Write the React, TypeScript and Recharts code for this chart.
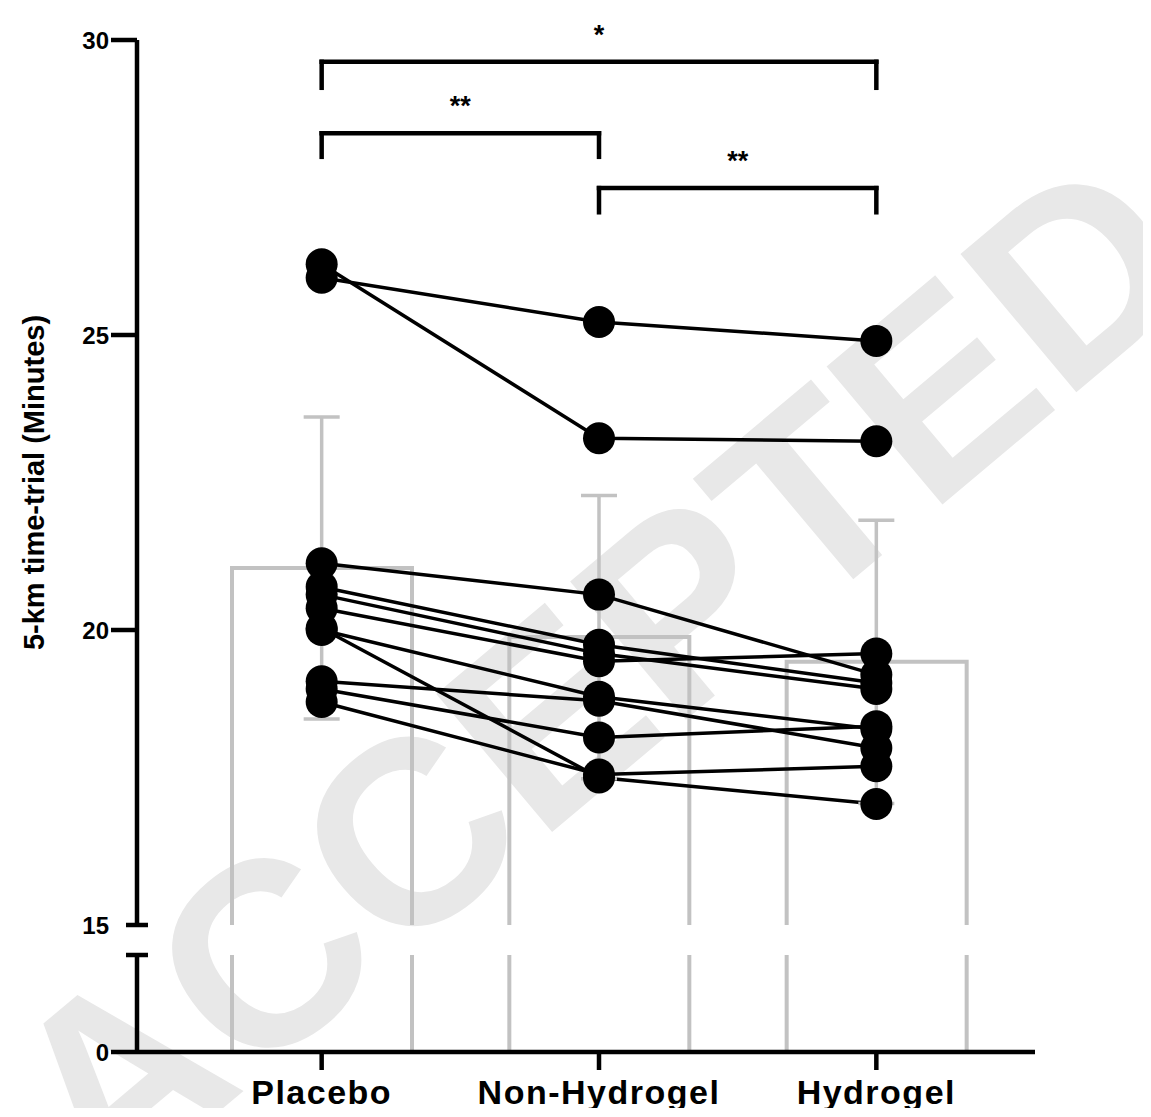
import React from "react";
import {
  Bar,
  ComposedChart,
  ErrorBar,
  Line,
  ReferenceLine,
  Scatter,
  XAxis,
  YAxis,
} from "recharts";

// conditions on the x axis
const categories = ["Placebo", "Non-Hydrogel", "Hydrogel"];

const meanTime = [21.05, 19.88, 19.46];
const sdTime = [2.56, 2.4, 2.4];

// individual runners: [placebo, non-hydrogel, hydrogel]
const runner01 = [26.2, 23.25, 23.2];
const runner02 = [25.97, 25.22, 24.9];
const runner03 = [21.13, 20.6, 19.24];
const runner04 = [20.73, 19.75, 19.1];
const runner05 = [20.6, 19.6, 19.0];
const runner06 = [20.37, 19.47, 19.6];
const runner07 = [20.0, 18.87, 18.32];
const runner08 = [20.03, 17.5, 17.05];
const runner09 = [19.13, 18.8, 18.0];
const runner10 = [19.0, 18.18, 18.37];
const runner11 = [18.78, 17.55, 17.69];
const runners = [
  runner01, runner02, runner03, runner04, runner05, runner06,
  runner07, runner08, runner09, runner10, runner11,
];

// y ticks of the two axis segments
const upperTicks = [15, 20, 25, 30];
const lowerTicks = [0, 15];

// significance brackets: from, to, bar level, foot level, label
const bracketFrom = ["Placebo", "Placebo", "Non-Hydrogel"];
const bracketTo = ["Hydrogel", "Non-Hydrogel", "Hydrogel"];
const bracketTop = [29.63, 28.42, 27.49];
const bracketFoot = [29.19, 28.02, 27.08];
const bracketLabel = ["*", "**", "**"];

const rows = categories.map((name, i) => {
  const row: Record<string, number | string> = {
    name,
    mean: meanTime[i],
    sd: sdTime[i],
  };
  runners.forEach((r, j) => {
    row[`r${j}`] = r[i];
  });
  return row;
});

const FONT = "'Liberation Sans', Arial, Helvetica, sans-serif";
const GREY = "#c2c2c2";
const AXIS_W = 4.5;
const W = 1143;
const MARGIN_X = { left: 0, right: 116 };
const X_PAD = { left: 46, right: 20 };

const yTick = (lower: boolean) => (props: any) => {
  const { x, y, payload } = props;
  const isBreak = payload.value === 15;
  const showLabel = !(lower && isBreak);
  return (
    <g>
      {isBreak ? (
        <line x1={x - 11} x2={x + 11} y1={y} y2={y} stroke="#000" strokeWidth={AXIS_W} />
      ) : (
        <line x1={x - 26} x2={x} y1={y} y2={y} stroke="#000" strokeWidth={AXIS_W} />
      )}
      {showLabel && (
        <text
          x={x - 28}
          y={y}
          dy="0.36em"
          textAnchor="end"
          fontFamily={FONT}
          fontWeight={700}
          fontSize={24}
          fill="#000"
        >
          {payload.value}
        </text>
      )}
    </g>
  );
};

const xTick = (props: any) => {
  const { x, y, payload } = props;
  return (
    <text
      x={x}
      y={y}
      dy="0.71em"
      textAnchor="middle"
      fontFamily={FONT}
      fontWeight={700}
      fontSize={34}
      letterSpacing={1.5}
      fill="#000"
    >
      {payload.value}
    </text>
  );
};

const upperBarShape = (p: any) => {
  const { x, y, width, height } = p;
  return (
    <path
      d={`M${x},${y + height} V${y} H${x + width} V${y + height}`}
      fill="none"
      stroke={GREY}
      strokeWidth={4}
    />
  );
};

const lowerBarShape = (p: any) => {
  const { x, y, width, height } = p;
  return (
    <path
      d={`M${x},${y} V${y + height} M${x + width},${y} V${y + height}`}
      fill="none"
      stroke={GREY}
      strokeWidth={4}
    />
  );
};

export default function App() {
  return (
    <div style={{ position: "relative", width: W, height: 1100, fontFamily: FONT }}>
      <style>{"svg.recharts-surface{overflow:visible}"}</style>
      <div
        style={{
          position: "absolute",
          left: 590,
          top: 668,
          transform: "translate(-50%, -50%) rotate(-40deg)",
          fontSize: 262,
          fontWeight: 700,
          color: "#e8e8e8",
          whiteSpace: "nowrap",
          lineHeight: 1,
        }}
      >
        ACCEPTED
      </div>

      <div style={{ position: "absolute", left: 0, top: 0 }}>
        <ComposedChart
          width={W}
          height={932}
          data={rows}
          margin={{ top: 32, bottom: 15, ...MARGIN_X }}
        >
          <XAxis dataKey="name" type="category" hide padding={X_PAD} />
          <YAxis
            type="number"
            domain={[15, 30]}
            ticks={upperTicks}
            interval={0}
            allowDataOverflow
            width={129}
            tickSize={0}
            tickMargin={0}
            tick={yTick(false)}
            axisLine={{ stroke: "#000", strokeWidth: AXIS_W }}
            label={{
              value: "5-km time-trial (Minutes)",
              angle: -90,
              position: "insideLeft",
              offset: 26,
              textAnchor: "middle",
              style: { textAnchor: "middle", fontFamily: FONT, fontWeight: 700, fontSize: 29, fill: "#000" },
            }}
          />
          <Bar dataKey="mean" barSize={180} shape={upperBarShape} isAnimationActive={false} />
          {runners.map((_, j) => (
            <Line
              key={j}
              dataKey={`r${j}`}
              stroke="#000"
              strokeWidth={3.5}
              dot={{ r: 16, fill: "#000", stroke: "none" }}
              activeDot={false}
              isAnimationActive={false}
            />
          ))}
          <Scatter dataKey="mean" shape={() => <g />} isAnimationActive={false}>
            <ErrorBar dataKey="sd" direction="y" width={18} stroke={GREY} strokeWidth={3.5} />
          </Scatter>
          {bracketFrom.map((from, k) => (
            <ReferenceLine
              key={`h${k}`}
              segment={[
                { x: from, y: bracketTop[k] },
                { x: bracketTo[k], y: bracketTop[k] },
              ]}
              stroke="#000"
              strokeWidth={AXIS_W}
              strokeLinecap="square"
              label={{
                value: bracketLabel[k],
                position: "top",
                offset: 18,
                fill: "#000",
                fontSize: 27,
                fontWeight: 700,
                fontFamily: FONT,
              }}
            />
          ))}
          {bracketFrom.map((from, k) => (
            <ReferenceLine
              key={`l${k}`}
              segment={[
                { x: from, y: bracketTop[k] },
                { x: from, y: bracketFoot[k] },
              ]}
              stroke="#000"
              strokeWidth={AXIS_W}
              strokeLinecap="square"
            />
          ))}
          {bracketTo.map((to, k) => (
            <ReferenceLine
              key={`r${k}`}
              segment={[
                { x: to, y: bracketTop[k] },
                { x: to, y: bracketFoot[k] },
              ]}
              stroke="#000"
              strokeWidth={AXIS_W}
              strokeLinecap="square"
            />
          ))}
        </ComposedChart>
      </div>

      <div style={{ position: "absolute", left: 0, top: 932 }}>
        <ComposedChart
          width={W}
          height={168}
          data={rows}
          margin={{ top: 15, bottom: 0, ...MARGIN_X }}
        >
          <XAxis
            dataKey="name"
            type="category"
            padding={X_PAD}
            height={56}
            tickSize={18}
            tickMargin={10}
            tick={xTick}
            tickLine={{ stroke: "#000", strokeWidth: AXIS_W }}
            axisLine={{ stroke: "#000", strokeWidth: AXIS_W }}
          />
          <YAxis
            type="number"
            domain={[0, 15]}
            ticks={lowerTicks}
            interval={0}
            allowDataOverflow
            width={129}
            tickSize={0}
            tickMargin={0}
            tick={yTick(true)}
            axisLine={{ stroke: "#000", strokeWidth: AXIS_W }}
          />
          <Bar dataKey="mean" barSize={180} shape={lowerBarShape} isAnimationActive={false} />
        </ComposedChart>
      </div>
    </div>
  );
}
